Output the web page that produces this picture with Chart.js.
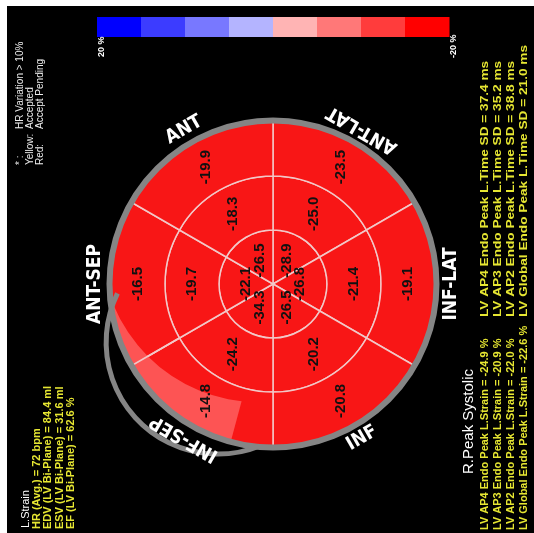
<!DOCTYPE html>
<html>
<head>
<meta charset="utf-8">
<script src="https://cdn.jsdelivr.net/npm/chart.js@4.4.0/dist/chart.umd.min.js"></script>
<style>
  html, body { margin: 0; padding: 0; background: #fff; }
  canvas { display: block; }
</style>
</head>
<body>
<canvas id="bullseye" width="534" height="533"></canvas>
<script>
// segmentos em sentido horário a partir do topo
const segmentos = ["ANT-LAT", "INF-LAT", "INF", "INF-SEP", "ANT-SEP", "ANT"];
const basal = [-23.5, -19.1, -20.8, -14.8, -16.5, -19.9];
const medio = [-25.0, -21.4, -20.2, -24.2, -19.7, -18.3];
const apical = [-28.9, -26.8, -26.5, -34.3, -22.1, -26.5];
const pesos = [1, 1, 1, 1, 1, 1]; // todos os segmentos com o mesmo tamanho

const escalaCores = ["#0000ff", "#3c3cff", "#7878ff", "#b4b4ff", "#ffb4b4", "#ff7878", "#ff3c3c", "#ff0000"];
const escalaLimites = ["20 %", "-20 %"];

const infoEsq = ["HR (Avg.) = 72 bpm", "EDV (LV Bi-Plane) = 84.4 ml", "ESV (LV Bi-Plane) = 31.6 ml", "EF (LV Bi-Plane) = 62.6 %"];
const legendaChaves = ["* :", "Yellow:", "Red:"];
const legendaValores = ["HR Variation > 10%", "Accepted", "Accept Pending"];
const strainPico = [
  "LV AP4 Endo Peak L.Strain = -24.9 %",
  "LV AP3 Endo Peak L.Strain = -20.9 %",
  "LV AP2 Endo Peak L.Strain = -22.0 %",
  "LV Global Endo Peak L.Strain = -22.6 %"
];
const tempoPico = [
  "LV AP4 Endo Peak L.Time SD = 37.4 ms",
  "LV AP3 Endo Peak L.Time SD = 35.2 ms",
  "LV AP2 Endo Peak L.Time SD = 38.8 ms",
  "LV Global Endo Peak L.Time SD = 21.0 ms"
];

const VERMELHO = "#f81616";
const CINZA = "#858585";
const AMARELO = "#e6e632";

function textoVertical(ctx, texto, x, y, fonte, cor, esticar = 1) {
  ctx.save();
  ctx.translate(x, y);
  ctx.rotate(-Math.PI / 2);
  ctx.scale(esticar, 1);
  ctx.font = fonte;
  ctx.fillStyle = cor;
  ctx.textAlign = "left";
  ctx.textBaseline = "alphabetic";
  ctx.fillText(texto, 0, 0);
  ctx.restore();
}

// ângulo medido do topo, sentido horário -> ângulo do canvas
const rad = (graus) => (graus - 90) * Math.PI / 180;

const fundo = {
  id: "fundo",
  beforeDraw(chart) {
    const ctx = chart.ctx;
    ctx.save();
    ctx.fillStyle = "#fff";
    ctx.fillRect(0, 0, chart.width, chart.height);
    ctx.fillStyle = "#000";
    ctx.fillRect(7, 6, chart.width - 7, chart.height - 6);
    ctx.restore();
  }
};

const bullseyeExtras = {
  id: "bullseyeExtras",
  afterDatasetsDraw(chart) {
    const ctx = chart.ctx;
    const externo = chart.getDatasetMeta(0).data;
    const cx = externo[0].x, cy = externo[0].y;
    const R = externo[0].outerRadius;

    // mancha mais clara perto da borda (INF-SEP)
    ctx.save();
    ctx.beginPath();
    ctx.moveTo(cx, cy);
    ctx.arc(cx, cy, R, rad(195), rad(266));
    ctx.closePath();
    ctx.clip();
    ctx.beginPath();
    ctx.rect(0, 0, chart.width, chart.height);
    const d = 0.256 * R, dir = -20 * Math.PI / 180;
    ctx.arc(cx + Math.sin(dir) * d, cy - Math.cos(dir) * d, 0.97 * R, 0, Math.PI * 2, true);
    ctx.fillStyle = "#fd5454";
    ctx.fill("evenodd");
    ctx.restore();

    // linha de divisão que fica por cima da mancha
    const arcoSep = externo[4];
    ctx.save();
    ctx.strokeStyle = "#f2c8c8";
    ctx.lineWidth = 1.5;
    ctx.beginPath();
    ctx.moveTo(cx + Math.cos(arcoSep.startAngle) * arcoSep.innerRadius, cy + Math.sin(arcoSep.startAngle) * arcoSep.innerRadius);
    ctx.lineTo(cx + Math.cos(arcoSep.startAngle) * R, cy + Math.sin(arcoSep.startAngle) * R);
    ctx.stroke();
    ctx.restore();

    // contorno cinza
    ctx.save();
    ctx.strokeStyle = CINZA;
    ctx.lineWidth = 6;
    ctx.beginPath();
    ctx.arc(cx, cy, R + 1.5, 0, Math.PI * 2);
    ctx.stroke();
    ctx.lineWidth = 5;
    ctx.beginPath();
    ctx.arc(cx - 0.34 * R, cy + 0.36 * R, 0.69 * R, 206 * Math.PI / 180, 68 * Math.PI / 180, true);
    ctx.stroke();
    ctx.restore();

    // valores dos segmentos
    const aneis = [basal, medio, apical];
    aneis.forEach((valores, idx) => {
      chart.getDatasetMeta(idx).data.forEach((arco, i) => {
        const p = arco.tooltipPosition();
        ctx.save();
        ctx.translate(p.x, p.y);
        ctx.rotate(-Math.PI / 2);
        ctx.font = "bold 15px 'Liberation Sans', Arial, sans-serif";
        ctx.fillStyle = "#111";
        ctx.textAlign = "center";
        ctx.textBaseline = "middle";
        ctx.fillText(valores[i].toFixed(1), 0, 0);
        ctx.restore();
      });
    });

    // nomes dos segmentos
    externo.forEach((arco, i) => {
      const meio = (arco.startAngle + arco.endAngle) / 2;
      const r = R + 16;
      const graus = ((meio * 180 / Math.PI) + 90 + 360) % 360;
      const rot = graus >= 180 ? graus : graus + 180;
      ctx.save();
      ctx.translate(cx + Math.cos(meio) * r, cy + Math.sin(meio) * r);
      ctx.rotate(rot * Math.PI / 180);
      ctx.font = "bold 19px 'DejaVu Sans Condensed', 'Liberation Sans Narrow', Arial, sans-serif";
      ctx.fillStyle = "#fff";
      ctx.textAlign = "center";
      ctx.textBaseline = "middle";
      ctx.fillText(segmentos[i], 0, 0);
      ctx.restore();
    });
  },
  afterDraw(chart) {
    const ctx = chart.ctx;

    // barra de cores
    const x0 = 97, larg = 44, y0 = 17, alt = 20;
    escalaCores.forEach((cor, i) => {
      ctx.fillStyle = cor;
      ctx.fillRect(x0 + i * larg, y0, larg + 0.5, alt);
    });
    textoVertical(ctx, escalaLimites[0], 104, 57, "bold 9px Arial, sans-serif", "#fff");
    textoVertical(ctx, escalaLimites[1], 456, 58, "bold 9px Arial, sans-serif", "#fff");

    // bloco da esquerda
    textoVertical(ctx, "L.Strain", 28.5, 528, "11px Arial, sans-serif", "#fff");
    infoEsq.forEach((t, i) => {
      textoVertical(ctx, t, 39.5 + i * 11.5, 529, "bold 11px Arial, sans-serif", AMARELO);
    });

    legendaChaves.forEach((t, i) => {
      textoVertical(ctx, t, 23 + i * 10, 165, "10px Arial, sans-serif", "#eee");
      textoVertical(ctx, legendaValores[i], 23 + i * 10, 129, "10px Arial, sans-serif", "#eee");
    });

    // bloco da direita
    textoVertical(ctx, "R.Peak Systolic", 473, 474, "15px Arial, sans-serif", "#fff");
    strainPico.forEach((t, i) => {
      textoVertical(ctx, t, 487.5 + i * 13.3, 530, "bold 11px Arial, sans-serif", AMARELO);
    });
    tempoPico.forEach((t, i) => {
      textoVertical(ctx, t, 487.5 + i * 13.3, 317, "bold 11px Arial, sans-serif", AMARELO, 1.24);
    });
  }
};

const anel = (valores) => ({
  data: pesos,
  strain: valores,
  backgroundColor: VERMELHO,
  borderColor: "#f2c8c8",
  borderWidth: 1.5,
  hoverOffset: 0
});

new Chart(document.getElementById("bullseye"), {
  type: "pie",
  data: {
    labels: segmentos,
    datasets: [anel(basal), anel(medio), anel(apical)]
  },
  options: {
    responsive: false,
    animation: false,
    events: [],
    radius: 162,
    rotation: 0,
    layout: { padding: { left: 100, right: 88, top: 110, bottom: 75 } },
    plugins: { legend: { display: false }, tooltip: { enabled: false } }
  },
  plugins: [fundo, bullseyeExtras]
});
</script>
</body>
</html>
